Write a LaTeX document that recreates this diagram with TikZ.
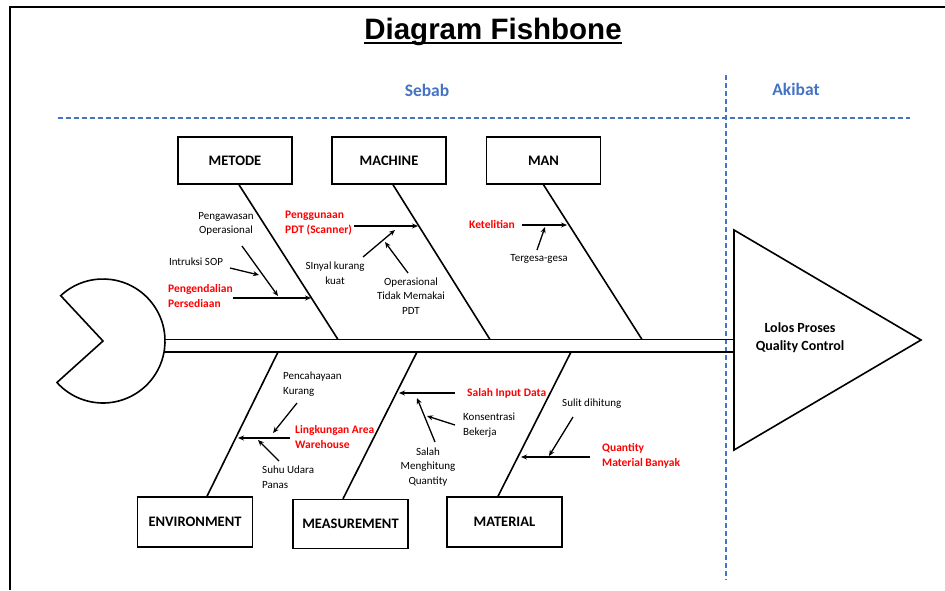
\documentclass[tikz,border=0pt]{standalone}
\usepackage{fontspec}
\setmainfont{Carlito}
\newfontfamily\titlefont{Liberation Sans}
\usepackage{xcolor}
\usepackage{tikz}
\usetikzlibrary{arrows.meta,positioning,calc}
\definecolor{sebabblue}{HTML}{4472C4}
\definecolor{keyred}{HTML}{FF0000}

\begin{document}
\begin{tikzpicture}[
    x=1pt, y=1pt,
    catbox/.style={rectangle, draw, line width=1.5pt, minimum width=115pt, minimum height=48pt, font=\fontsize{14.5}{16}\selectfont\bfseries},
    bone/.style={line width=1.6pt},
    sub/.style={font=\fontsize{11}{14.5}\selectfont, align=center, inner sep=0pt},
    subl/.style={sub, align=left, anchor=west},
    key/.style={font=\fontsize{11.5}{14.5}\selectfont\bfseries, text=keyred, align=left, anchor=west, inner sep=0pt},
    cause/.style={-{Stealth[length=6pt,width=5pt]}, line width=1.3pt},
    zone/.style={sebabblue, line width=1.5pt, dash pattern=on 5pt off 3pt},
    side/.style={font=\fontsize{17.5}{20}\selectfont\bfseries, text=sebabblue}
]
    \useasboundingbox (0,0) rectangle (945,-590);

    % Frame
    \draw[line width=2pt] (10,-590) -- (10,-7) -- (945,-7);

    % Title
    \node[font=\titlefont\fontsize{29.5}{32}\selectfont\bfseries, anchor=base, inner sep=0pt] (title) at (493,-39) {Diagram Fishbone};
    \draw[line width=2.5pt] ([yshift=-4pt]title.base west) -- ([yshift=-4pt]title.base east);

    % Cause / effect zones
    \node[side] (sebab) at (427,-90) {Sebab};
    \node[side] (akibat) at (796,-89) {Akibat};
    \coordinate (zl) at (58,-118);
    \coordinate (zr) at (910,-118);
    \coordinate (zt) at (726,-75);
    \coordinate (zb) at (726,-580);
    \draw[zone] (zl) -- (zr);
    \draw[zone] (zt) -- (zb);

    % Fish head and tail
    \coordinate (headc) at (103,-341);
    \draw[bone] (headc) ++(133:62) arc[start angle=133, end angle=-138, radius=62] -- (headc) -- cycle;
    \coordinate (tritop) at (734,-230);
    \coordinate (tribot) at (734,-450);
    \coordinate (tritip) at (921,-340);
    \draw[bone] (tritop) -- (tritip) -- (tribot) -- cycle;
    \node[font=\fontsize{14}{18}\selectfont\bfseries, align=center] (effect) at (800,-338) {Lolos Proses\\Quality Control};

    % Spine (double line)
    \coordinate (neck) at (164,-346);
    \draw[bone] ([yshift=6.5pt]neck) -- ([yshift=6.5pt]neck -| tritop);
    \draw[bone] ([yshift=-6pt]neck) -- ([yshift=-6pt]neck -| tritop);

    % Category boxes
    \node[catbox, minimum width=114pt, minimum height=47pt] (metode) at (235,-160.5) {METODE};
    \node[catbox, minimum width=114pt, minimum height=47pt] (machine) at (389,-160.5) {MACHINE};
    \node[catbox, minimum width=114pt, minimum height=47pt] (man) at (543.5,-160.5) {MAN};
    \node[catbox, minimum height=50pt] (environment) at (195,-522) {ENVIRONMENT};
    \node[catbox, minimum height=49pt] (measurement) at (350.5,-524) {MEASUREMENT};
    \node[catbox, minimum height=50pt] (material) at (504.5,-522) {MATERIAL};

    % Bones to the spine
    \coordinate (sp1) at (338,-339.5);
    \coordinate (sp2) at (490,-339.5);
    \coordinate (sp3) at (642,-339.5);
    \coordinate (sp4) at (278,-352);
    \coordinate (sp5) at (417,-352);
    \coordinate (sp6) at (571,-352);
    \draw[bone] ([xshift=4pt]metode.south) -- (sp1);
    \draw[bone] ([xshift=4pt]machine.south) -- (sp2);
    \draw[bone] (man.south) -- (sp3);
    \draw[bone] ([xshift=12pt]environment.north) -- (sp4);
    \draw[bone] ([xshift=-7.5pt]measurement.north) -- (sp5);
    \draw[bone] ([xshift=-6.5pt]material.north) -- (sp6);

    % Sub-cause texts
    \node[sub] (pengawasan) at (226,-224) {Pengawasan\\Operasional};
    \node[sub] (intruksi) at (196,-262) {Intruksi SOP};
    \node[key] (pengendalian) at (168,-296) {Pengendalian\\Persediaan};
    \node[key] (penggunaan) at (285,-223) {Penggunaan\\PDT (Scanner)};
    \node[sub] (sinyal) at (335,-273) {SInyal kurang\\kuat};
    \node[sub] (operasional) at (411,-296) {Operasional\\Tidak Memakai\\PDT};
    \node[key, anchor=center] (ketelitian) at (492,-224) {Ketelitian};
    \node[sub] (tergesa) at (539,-259) {Tergesa-gesa};
    \node[subl] (pencahayaan) at (283,-384) {Pencahayaan\\Kurang};
    \node[key] (lingkungan) at (295,-437) {Lingkungan Area\\Warehouse};
    \node[subl] (suhu) at (262,-477) {Suhu Udara\\Panas};
    \node[key] (salahinput) at (467,-393) {Salah Input Data};
    \node[subl] (konsentrasi) at (463,-425) {Konsentrasi\\Bekerja};
    \node[sub] (salahhitung) at (428,-467) {Salah\\Menghitung\\Quantity};
    \node[subl] (sulit) at (562,-404) {Sulit dihitung};
    \node[key] (quantity) at (602,-456) {Quantity\\Material Banyak};

    % Arrow end points
    \foreach \n/\x/\y in {
        a1s/233/-298, a1e/311/-298, a2s/242/-246, a2e/278/-296, a3s/230/-268, a3e/259/-275,
        b1s/354/-226, b1e/418/-226, b2s/363/-257, b2e/395/-230, b3s/408/-273, b3e/385/-242,
        c1s/522/-225, c1e/567/-225, c2s/537/-250, c2e/545/-227,
        d1s/290/-438, d1e/238/-438, d2s/297/-403, d2e/273/-433, d3s/279/-461, d3e/258/-440,
        e1s/455/-393, e1e/399/-393, e2s/455/-425, e2e/427/-416, e3s/435/-442, e3e/417/-398,
        f1s/590/-457, f1e/521/-457, f2s/573/-417, f2e/549/-456}
        \coordinate (\n) at (\x,\y);

    % Sub-cause arrows
    \foreach \a in {a1,a2,a3,b1,b2,b3,c1,c2,d1,d2,d3,e1,e2,e3,f1,f2}
        \draw[cause] (\a s) -- (\a e);

\end{tikzpicture}
\end{document}
